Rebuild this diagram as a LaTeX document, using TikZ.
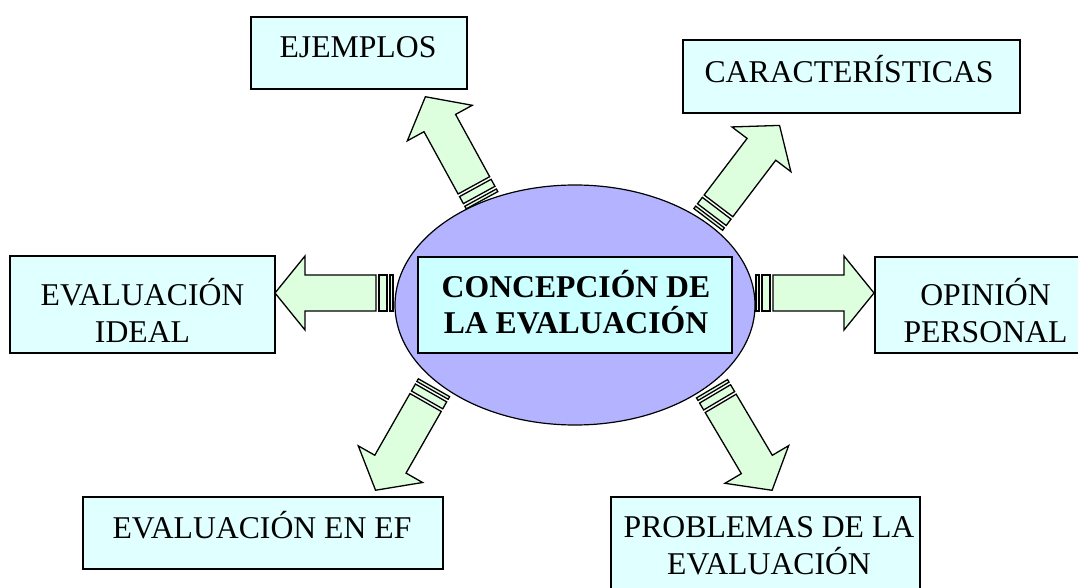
\documentclass[tikz,border=0pt]{standalone}
\usepackage{fontspec}
\setmainfont{Liberation Serif}
\usetikzlibrary{shapes.geometric}
\definecolor{boxfill}{HTML}{E0FFFF}
\definecolor{innerfill}{HTML}{CCFFFF}
\definecolor{ellfill}{HTML}{B3B3FF}
\definecolor{arrfill}{HTML}{DDFFDD}
\tikzset{
  boxnode/.style={draw=black, line width=1.8pt, fill=boxfill, rectangle, inner sep=0pt},
  lbl/.style={font=\fontsize{31.7}{37}\selectfont, inner sep=0pt, align=center},
  arrline/.style={draw=black, line width=1.3pt, fill=arrfill, line join=miter},
  sarrow/.pic={
    \path[arrline] (2,-18) rectangle (5,18);
    \path[arrline] (8,-18) rectangle (16,18);
    \path[arrline] (19,-18) -- (90,-18) -- (90,-37) -- (120,0) -- (90,37) -- (90,18) -- (19,18) -- cycle;
  }
}
\begin{document}
\begin{tikzpicture}[x=1pt,y=-1pt]
\useasboundingbox (0,0) rectangle (1078,588);
\clip (0,0) rectangle (1078,588);
% tails of the striped arrows
\coordinate (tL) at (395,293);
\coordinate (tR) at (754,293);
\coordinate (tUL) at (483,202);
\coordinate (tUR) at (707,221);
\coordinate (tLL) at (435,386);
\coordinate (tLR) at (711,387);
\pic[rotate=180] at (tL) {sarrow};
\pic[rotate=0] at (tR) {sarrow};
\pic[rotate=118.7] at (tUL) {sarrow};
\pic[rotate=52.8] at (tUR) {sarrow};
\pic[rotate=-119.7] at (tLL) {sarrow};
\pic[rotate=-59.4] at (tLR) {sarrow};
% centre
\node[ellipse, draw=black, line width=1.2pt, fill=ellfill, minimum width=360pt, minimum height=240pt, inner sep=0pt] (ell) at (575,305) {};
\node[rectangle, draw=black, line width=1.8pt, fill=innerfill, minimum width=314pt, minimum height=96pt, inner sep=0pt] (core) at (575,305) {};
\node[lbl, anchor=base, font=\fontsize{31.7}{36}\selectfont\bfseries] (coreT) at (576,333) {CONCEPCIÓN DE\\LA EVALUACIÓN};
% outer boxes
\node[boxnode, minimum width=216pt, minimum height=72pt] (ej) at (359,53) {};
\node[lbl, anchor=base] (ejT) at (358,58) {EJEMPLOS};
\node[boxnode, minimum width=337pt, minimum height=73pt] (car) at (851.5,76.5) {};
\node[lbl, anchor=base] (carT) at (849,83) {CARACTERÍSTICAS};
\node[boxnode, minimum width=265pt, minimum height=97pt] (ideal) at (142.5,304.5) {};
\node[lbl, anchor=base] (idealT) at (142.5,342) {EVALUACIÓN\\IDEAL};
\node[boxnode, minimum width=220pt, minimum height=96pt] (op) at (985,305) {};
\node[lbl, anchor=base] (opT) at (985.5,342) {OPINIÓN\\PERSONAL};
\node[boxnode, minimum width=360pt, minimum height=72pt] (ef) at (263,533) {};
\node[lbl, anchor=base] (efT) at (262,538) {EVALUACIÓN EN EF};
\node[boxnode, minimum width=309pt, minimum height=120pt] (prob) at (765.5,557) {};
\node[lbl, anchor=base] (probT) at (769,574) {PROBLEMAS DE LA\\EVALUACIÓN};
\end{tikzpicture}
\end{document}
